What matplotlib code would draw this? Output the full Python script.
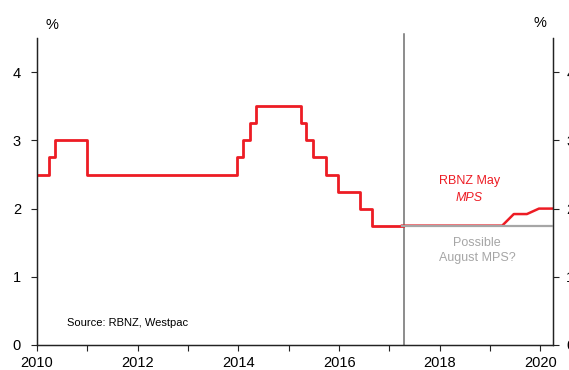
import numpy as np
import matplotlib
matplotlib.use("Agg")
import matplotlib.pyplot as plt
from matplotlib.ticker import MultipleLocator

plt.rcParams['font.family'] = ['Liberation Sans', 'DejaVu Sans']

# official cash rate, step dates (decimal years) and levels
ocr_dates = [2010.0, 2010.24, 2010.36, 2010.99, 2013.97, 2014.10, 2014.23, 2014.35,
             2015.24, 2015.35, 2015.49, 2015.74, 2015.98, 2016.42, 2016.66, 2017.27]
ocr_rates = [2.5, 2.75, 3.0, 2.5, 2.75, 3.0, 3.25, 3.5,
             3.25, 3.0, 2.75, 2.5, 2.25, 2.0, 1.75, 1.75]

# RBNZ May MPS track
mps_dates = [2017.25, 2019.24, 2019.47, 2019.73, 2019.97, 2020.25]
mps_rates = [1.75, 1.75, 1.92, 1.92, 2.0, 2.0]

# possible August MPS track
aug_dates = [2017.25, 2020.25]
aug_rates = [1.75, 1.75]

forecast_start = 2017.28
year_ticks = [2010, 2012, 2014, 2016, 2018, 2020]
pct_ticks = [0, 1, 2, 3, 4]

red = '#ed1c24'
grey = '#a6a6a6'
dark = '#222222'

fig = plt.figure(figsize=(5.69, 3.70), dpi=100)
ax = fig.add_axes([0.065, 0.0676, 0.907, 0.8294])

ax.plot(ocr_dates, ocr_rates, drawstyle='steps-post', color=red, lw=2.0, zorder=3)
ax.plot(mps_dates, mps_rates, color=red, lw=1.8, zorder=2)
ax.plot(aug_dates, aug_rates, color=grey, lw=1.6, zorder=3)
ax.axvline(forecast_start, ymin=0, ymax=1.015, color='#6e6e6e', lw=1.1, clip_on=False, zorder=1)

ax.set_xlim(2010, 2020.25)
ax.set_ylim(0, 4.5)
ax.set_xticks(year_ticks)
ax.xaxis.set_minor_locator(MultipleLocator(1))
ax.set_yticks(pct_ticks)

# right hand axis, same scale
ax2 = ax.twinx()
ax2.set_ylim(0, 4.5)
ax2.set_yticks(pct_ticks)

for a in (ax, ax2):
    for s in ['left', 'right', 'bottom']:
        a.spines[s].set_color(dark)
        a.spines[s].set_linewidth(0.9)
    a.spines['top'].set_visible(False)
    a.tick_params(axis='both', which='both', direction='out', length=4.5, width=0.8,
                  color=dark, labelsize=10.5)

ax.tick_params(axis='y', pad=7)
ax2.tick_params(axis='y', pad=5)
ax.tick_params(axis='x', pad=3.5)

fig.text(0.091, 0.932, '%', fontsize=10.5, ha='center', va='center')
fig.text(0.949, 0.938, '%', fontsize=10.5, ha='center', va='center')

ax.text(2018.59, 2.40, 'RBNZ May', color=red, fontsize=9, ha='center', va='center')
ax.text(2018.59, 2.16, 'MPS', color=red, fontsize=9, ha='center', va='center', style='italic')
ax.text(2018.74, 1.50, 'Possible', color=grey, fontsize=9, ha='center', va='center')
ax.text(2018.74, 1.28, 'August MPS?', color=grey, fontsize=9, ha='center', va='center')

ax.text(2010.6, 0.32, 'Source: RBNZ, Westpac', fontsize=8, ha='left', va='center')

fig.savefig('out.png', dpi=100)
